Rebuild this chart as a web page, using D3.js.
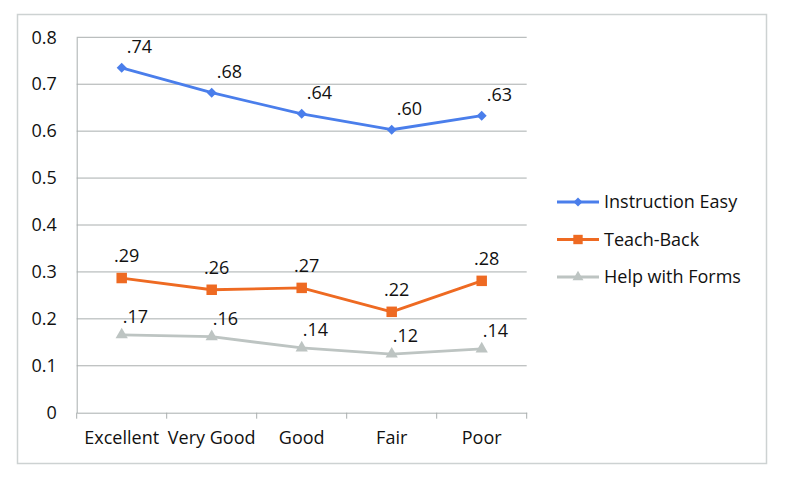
<!DOCTYPE html>
<html><head><meta charset="utf-8">
<script src="https://cdn.jsdelivr.net/npm/d3@7"></script>
<style>
html,body{margin:0;padding:0;background:#fff;}
svg text{font-family:"Open Sans","Liberation Sans",sans-serif;fill:#111;}
</style></head>
<body><svg id="chart" width="789" height="491"></svg>
<script>
const categories = ["Excellent","Very Good","Good","Fair","Poor"];
const instructionEasy = [0.735, 0.682, 0.637, 0.603, 0.633];
const teachBack = [0.287, 0.262, 0.266, 0.215, 0.281];
const helpWithForms = [0.166, 0.162, 0.138, 0.125, 0.136];
const instructionLabels = [".74",".68",".64",".60",".63"];
const teachBackLabels = [".29",".26",".27",".22",".28"];
const helpLabels = [".17",".16",".14",".12",".14"];
const yTicks = [0,0.1,0.2,0.3,0.4,0.5,0.6,0.7,0.8];
const seriesNames = ["Instruction Easy","Teach-Back","Help with Forms"];

(function(){
const FS = "18px";
const series = [
  {name:seriesNames[0], values:instructionEasy, labels:instructionLabels, color:"#4A7EEB", symbol:d3.symbolSquare, rot:45, size:50, anchor:"start", dx:5, dy:-15},
  {name:seriesNames[1], values:teachBack, labels:teachBackLabels, color:"#EE6A22", symbol:d3.symbolSquare, rot:0, size:110, anchor:"middle", dx:5, dy:-16},
  {name:seriesNames[2], values:helpWithForms, labels:helpLabels, color:"#BDC4C2", symbol:d3.symbolTriangle, rot:0, size:65, anchor:"start", dx:1, dy:-12}
];

const svg = d3.select("#chart");
svg.append("rect").attr("x",17.5).attr("y",14.5).attr("width",749).attr("height",449)
  .attr("fill","#fff").attr("stroke","#CDD2D2").attr("stroke-width",1.5);

const pLeft = 76.7, pRight = 526.7, pTop = 37.3, pBottom = 412.7;
const x = d3.scaleBand().domain(categories).range([pLeft,pRight]);
const y = d3.scaleLinear().domain([0,0.8]).range([pBottom,pTop]);

svg.append("g").selectAll("line").data(yTicks.filter(d=>d>0)).join("line")
  .attr("x1",pLeft).attr("x2",pRight).attr("y1",d=>y(d)).attr("y2",d=>y(d))
  .attr("stroke","#A9AEAE").attr("stroke-width",1);

const yAxis = svg.append("g").attr("transform",`translate(${pLeft},0)`)
  .call(d3.axisLeft(y).tickValues(yTicks).tickSize(0).tickPadding(20).tickFormat(d=>d===0?"0":d3.format(".1f")(d)));
yAxis.select(".domain").attr("stroke","#A9AEAE").attr("stroke-width",1);
yAxis.selectAll("text").style("font-size",FS).attr("fill","#111");

const xAxis = svg.append("g").attr("transform",`translate(0,${pBottom})`)
  .call(d3.axisBottom(x).tickSize(0).tickPadding(19));
xAxis.select(".domain").attr("stroke","#A9AEAE").attr("stroke-width",1);
xAxis.selectAll("text").style("font-size",FS).attr("fill","#111");
svg.append("g").selectAll("line").data(categories.map(c=>x(c)).concat([pRight])).join("line")
  .attr("x1",d=>d).attr("x2",d=>d).attr("y1",pBottom).attr("y2",pBottom+6)
  .attr("stroke","#A9AEAE").attr("stroke-width",1);

const cx = c => x(c) + x.bandwidth()/2;

series.forEach(s=>{
  const pts = categories.map((c,i)=>[cx(c), y(s.values[i])]);
  svg.append("path").datum(pts).attr("d",d3.line())
    .attr("fill","none").attr("stroke",s.color).attr("stroke-width",2.8).attr("stroke-linejoin","round");
  svg.append("g").selectAll("path").data(pts).join("path")
    .attr("transform",d=>`translate(${d[0]},${d[1]}) rotate(${s.rot})`)
    .attr("d",d3.symbol().type(s.symbol).size(s.size)).attr("fill",s.color);
  svg.append("g").selectAll("text").data(pts).join("text")
    .attr("x",d=>d[0]+s.dx).attr("y",d=>d[1]+s.dy)
    .attr("text-anchor",s.anchor).style("font-size",FS)
    .text((d,i)=>s.labels[i]);
});

const lg = svg.append("g");
series.forEach((s,i)=>{
  const ly = 202 + i*37.5;
  lg.append("line").attr("x1",557).attr("x2",599).attr("y1",ly).attr("y2",ly)
    .attr("stroke",s.color).attr("stroke-width",2.8);
  lg.append("path").attr("transform",`translate(578,${ly}) rotate(${s.rot})`)
    .attr("d",d3.symbol().type(s.symbol).size(s.size*0.8)).attr("fill",s.color);
  lg.append("text").attr("x",604).attr("y",ly).attr("dy","0.35em")
    .style("font-size",FS).text(s.name);
});
})();
</script></body></html>
